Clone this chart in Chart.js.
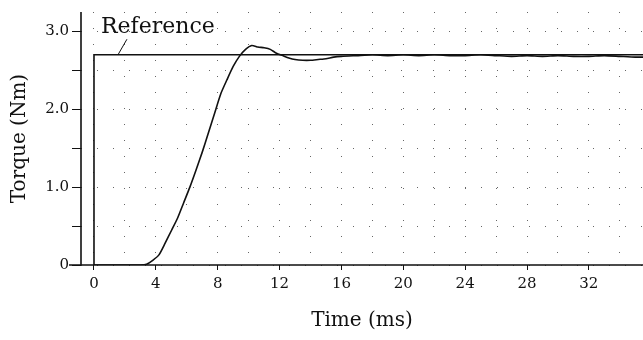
<!DOCTYPE html>
<html>
<head>
<meta charset="utf-8">
<script src="https://cdn.jsdelivr.net/npm/chart.js@4.4.1/dist/chart.umd.min.js"></script>
<style>
  html, body { margin: 0; padding: 0; background: #fff; }
  #wrap { width: 643px; height: 340px; }
</style>
</head>
<body>
<div id="wrap"><canvas id="torqueChart" width="643" height="340"></canvas></div>
<script>
const timeMs = [0, 1, 2, 3, 3.4, 3.8, 4.2, 4.6, 5.0, 5.4, 5.8, 6.2, 6.6, 7.0, 7.4, 7.8,
  8.2, 8.6, 9.0, 9.4, 9.8, 10.2, 10.6, 11.0, 11.4, 11.8, 12.2, 12.6, 13.0, 13.5, 14.0,
  14.5, 15.0, 15.5, 16, 17, 18, 19, 20, 21, 22, 23, 24, 25, 26, 27, 28, 29, 30, 31, 32,
  33, 34, 35, 35.5];
const torque = [0, 0, 0, 0, 0.01, 0.06, 0.13, 0.28, 0.44, 0.6, 0.8, 1.0, 1.22, 1.45, 1.7, 1.95,
  2.2, 2.38, 2.55, 2.68, 2.77, 2.82, 2.8, 2.79, 2.77, 2.72, 2.69, 2.66, 2.64, 2.63, 2.63,
  2.64, 2.65, 2.67, 2.68, 2.69, 2.7, 2.69, 2.7, 2.69, 2.7, 2.69, 2.69, 2.7, 2.69, 2.68, 2.69,
  2.68, 2.69, 2.68, 2.68, 2.69, 2.68, 2.67, 2.67];

// reference step
const refTime = [0, 0, 35.5];
const refTorque = [0, 2.7, 2.7];

// axes
const xRange = [-0.84, 35.5];
const yRange = [0, 3.25];
const xTickValues = [0, 2, 4, 6, 8, 10, 12, 14, 16, 18, 20, 22, 24, 26, 28, 30, 32, 34];
const xTickLabels = ['0', '', '4', '', '8', '', '12', '', '16', '', '20', '', '24', '', '28', '', '32', ''];
const yTickValues = [0, 0.5, 1, 1.5, 2, 2.5, 3];
const yTickLabels = ['0', '', '1.0', '', '2.0', '', '3.0'];

// callout text + leader line, in data units
const refLabel = { text: 'Reference', x: 0.45, y: 2.975, lineFrom: [2.13, 2.9], lineTo: [1.55, 2.7] };

const serif = '"DejaVu Serif", serif';

function toPoints(xs, ys) {
  return xs.map((x, i) => ({ x: x, y: ys[i] }));
}

// solid axis lines + callout
const extrasPlugin = {
  id: 'extras',
  afterDatasetsDraw(chart) {
    const ctx = chart.ctx, xs = chart.scales.x, ys = chart.scales.y, a = chart.chartArea;
    ctx.save();
    ctx.strokeStyle = '#111';
    ctx.lineWidth = 1.6;
    ctx.beginPath();
    ctx.moveTo(a.left, a.top);
    ctx.lineTo(a.left, a.bottom);
    ctx.moveTo(a.left - 12, a.bottom);
    ctx.lineTo(a.right, a.bottom);
    ctx.stroke();

    ctx.fillStyle = '#111';
    ctx.font = '22px ' + serif;
    ctx.textBaseline = 'alphabetic';
    ctx.fillText(refLabel.text, xs.getPixelForValue(refLabel.x), ys.getPixelForValue(refLabel.y));
    ctx.lineWidth = 1;
    ctx.beginPath();
    ctx.moveTo(xs.getPixelForValue(refLabel.lineFrom[0]), ys.getPixelForValue(refLabel.lineFrom[1]));
    ctx.lineTo(xs.getPixelForValue(refLabel.lineTo[0]), ys.getPixelForValue(refLabel.lineTo[1]));
    ctx.stroke();
    ctx.restore();
  }
};

new Chart(document.getElementById('torqueChart').getContext('2d'), {
  type: 'line',
  data: {
    datasets: [{
      label: 'Measured',
      data: toPoints(timeMs, torque),
      borderColor: '#111',
      borderWidth: 1.6,
      pointRadius: 0,
      tension: 0.2,
      fill: false
    }, {
      label: 'Reference',
      data: toPoints(refTime, refTorque),
      borderColor: '#111',
      borderWidth: 1.6,
      pointRadius: 0,
      tension: 0,
      fill: false
    }]
  },
  options: {
    responsive: false,
    animation: false,
    layout: { padding: { top: 5, right: 0, left: 0, bottom: 0 } },
    plugins: { legend: { display: false }, tooltip: { enabled: false } },
    scales: {
      x: {
        type: 'linear',
        min: xRange[0],
        max: xRange[1],
        afterBuildTicks: (s) => { s.ticks = xTickValues.map(v => ({ value: v })); },
        afterFit: (s) => { s.height = 75; },
        ticks: {
          autoSkip: false,
          maxRotation: 0,
          padding: 5,
          color: '#111',
          font: { family: serif, size: 15 },
          callback: (v) => xTickLabels[xTickValues.indexOf(v)]
        },
        grid: {
          drawOnChartArea: true,
          color: '#666',
          lineWidth: 1,
          tickLength: 5,
          tickBorderDash: [],
          tickColor: (c) => (c.tick && xTickLabels[c.index] !== '' ? '#111' : 'rgba(0,0,0,0)')
        },
        border: { display: false, dash: [1, 15] },
        title: {
          display: true,
          text: 'Time (ms)',
          color: '#111',
          font: { family: serif, size: 20 },
          padding: { top: 7, bottom: 7 }
        }
      },
      y: {
        min: yRange[0],
        max: yRange[1],
        afterBuildTicks: (s) => { s.ticks = yTickValues.map(v => ({ value: v })); },
        afterFit: (s) => { s.width = 81; },
        ticks: {
          autoSkip: false,
          padding: 3,
          color: '#111',
          font: { family: serif, size: 15 },
          callback: (v) => yTickLabels[yTickValues.indexOf(v)]
        },
        grid: {
          drawOnChartArea: true,
          color: '#666',
          lineWidth: 1,
          tickLength: 9,
          tickBorderDash: [],
          tickColor: '#111'
        },
        border: { display: false, dash: [1, 15] },
        title: {
          display: true,
          text: 'Torque (Nm)',
          color: '#111',
          font: { family: serif, size: 20 },
          padding: { top: 8, bottom: 8 }
        }
      }
    }
  },
  plugins: [extrasPlugin]
});
</script>
</body>
</html>
